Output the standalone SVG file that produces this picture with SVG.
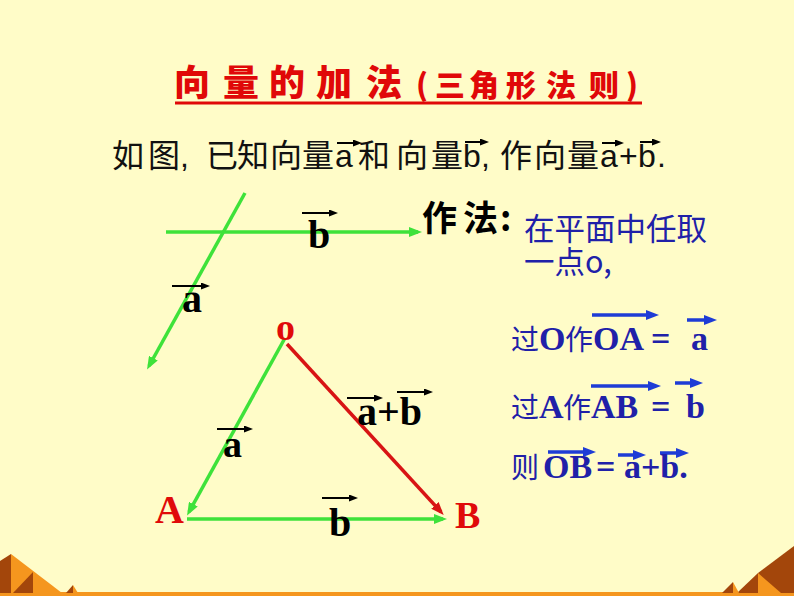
<svg xmlns="http://www.w3.org/2000/svg" width="794" height="596" viewBox="0 0 794 596">
<defs>
<style>
.bg{fill:#FFFCC8}
.dk{fill:#A3460B}
.or{fill:#F5961E}
.title{font-family:"Noto Sans CJK SC","Noto Sans CJK JP",sans-serif;font-weight:900;fill:#E00808}
.intro{font-family:"Liberation Sans","Noto Sans CJK SC",sans-serif;font-size:32px;fill:#111}
.lbl{font-family:"Liberation Serif",serif;font-weight:bold;fill:#000}
.pt{font-family:"Liberation Serif",serif;font-weight:bold;fill:#E00A0A}
.zuo{font-family:"Noto Sans CJK SC",sans-serif;font-weight:bold;font-size:35px;fill:#000}
.blue{font-family:"Noto Sans CJK SC",sans-serif;font-size:30.5px;fill:#2020A8}
.bb{font-family:"Liberation Serif",serif;font-weight:bold;font-size:34px;fill:#2020A8}
.bc{font-family:"Noto Sans CJK SC",sans-serif;font-weight:normal;font-size:28px;fill:#2020A8}
.green{stroke:#3EE23A;stroke-width:3.5;fill:none}
.red{stroke:#D81414;stroke-width:3.5;fill:none}
.blk{stroke:#000;stroke-width:2;fill:none}
.bl{stroke:#1E3CD6;stroke-width:3.5;fill:none}
</style>
<marker id="mg" markerUnits="userSpaceOnUse" markerWidth="14" markerHeight="10" refX="9" refY="5" orient="auto"><path d="M0,0 L13,5 L0,10 z" fill="#3EE23A"/></marker>
<marker id="mr" markerUnits="userSpaceOnUse" markerWidth="14" markerHeight="10" refX="9" refY="5" orient="auto"><path d="M0,0 L13,5 L0,10 z" fill="#D81414"/></marker>
<marker id="mk" markerUnits="userSpaceOnUse" markerWidth="9" markerHeight="7" refX="5" refY="3.5" orient="auto"><path d="M0,0 L9,3.5 L0,7 z" fill="#000"/></marker>
<marker id="mb" markerUnits="userSpaceOnUse" markerWidth="14" markerHeight="10" refX="8" refY="5" orient="auto"><path d="M0,0 L13,5 L0,10 z" fill="#1E3CD6"/></marker>
</defs>
<rect class="bg" x="0" y="0" width="794" height="596"/>
<g id="decor">
<rect class="or" x="0" y="592" width="794" height="4"/>
<polygon class="dk" points="0,561 11,554 11,593 0,593"/>
<polygon class="or" points="11,554 62,593 11,593"/>
<polygon class="dk" points="33,572 13,593 33,593"/>
<polygon class="dk" points="73,585 66,593 73,593"/>
<polygon class="or" points="73,585 78,593 73,593"/>
<polygon class="dk" points="737,593 758,573 794,546 794,593"/>
<polygon class="or" points="758,573 781,593 758,593"/>
<polygon class="dk" points="733,582 722,593 733,593"/>
<polygon class="or" points="733,582 739,593 733,593"/>
</g>
<g id="title">
<text class="title" y="96"><tspan font-size="36" x="174 223 269 316 366">向量的加法</tspan><tspan font-size="30" x="416 435 469 506 546 589 626">(三角形法则)</tspan></text>
<line x1="175" y1="103" x2="642" y2="103" stroke="#E00808" stroke-width="3"/>
</g>
<g id="intro">
<text class="intro" y="167" x="112 148 180 206 237 270 302 335 358 396 431 463 481 500 534 567 600 619 638 657">如图,已知向量a和向量b,作向量a+b.</text>
</g>
<g id="connectors">
<line class="green" x1="166" y1="232" x2="418" y2="232" marker-end="url(#mg)"/>
<line class="green" x1="245" y1="193" x2="149" y2="366" marker-end="url(#mg)"/>
<line class="green" x1="285" y1="338" x2="189" y2="512" marker-end="url(#mg)"/>
<line class="red" x1="287" y1="344" x2="441" y2="512" marker-end="url(#mr)"/>
<line class="green" x1="187" y1="519" x2="443" y2="519" marker-end="url(#mg)"/>
<g id="label-arrows">
<line class="blk" x1="337" y1="143" x2="358" y2="143" marker-end="url(#mk)"/>
<line class="blk" x1="465" y1="142" x2="485" y2="142" marker-end="url(#mk)"/>
<line class="blk" x1="602" y1="143" x2="620" y2="143" marker-end="url(#mk)"/>
<line class="blk" x1="640" y1="142" x2="657" y2="142" marker-end="url(#mk)"/>
<line class="blk" x1="302" y1="213" x2="334" y2="213" marker-end="url(#mk)"/>
<line class="blk" x1="172" y1="286" x2="206" y2="286" marker-end="url(#mk)"/>
<line class="blk" x1="217" y1="429" x2="249" y2="429" marker-end="url(#mk)"/>
<line class="blk" x1="347" y1="398" x2="379" y2="398" marker-end="url(#mk)"/>
<line class="blk" x1="397" y1="392" x2="429" y2="392" marker-end="url(#mk)"/>
<line class="blk" x1="322" y1="498" x2="354" y2="498" marker-end="url(#mk)"/>
<line class="bl" x1="592" y1="315" x2="654" y2="315" marker-end="url(#mb)"/>
<line class="bl" x1="687" y1="320" x2="712" y2="320" marker-end="url(#mb)"/>
<line class="bl" x1="591" y1="386" x2="656" y2="386" marker-end="url(#mb)"/>
<line class="bl" x1="675" y1="383" x2="698" y2="383" marker-end="url(#mb)"/>
<line class="bl" x1="548" y1="452" x2="591" y2="452" marker-end="url(#mb)"/>
<line class="bl" x1="618" y1="455" x2="641" y2="455" marker-end="url(#mb)"/>
<line class="bl" x1="660" y1="453" x2="684" y2="453" marker-end="url(#mb)"/>
</g>
</g>
<g id="fig1-labels">
<text class="lbl" font-size="40" x="308" y="248">b</text>
<text class="lbl" font-size="40" x="182" y="312">a</text>
</g>
<g id="node-O"><text class="pt" font-size="38" x="276" y="340">o</text></g>
<g id="node-A"><text class="pt" font-size="40" x="155" y="523">A</text></g>
<g id="node-B"><text class="pt" font-size="38" x="455" y="528">B</text></g>
<g id="tri-labels">
<text class="lbl" font-size="38" x="223" y="457">a</text>
<text class="lbl" font-size="40" x="357" y="425">a+b</text>
<text class="lbl" font-size="40" x="329" y="536">b</text>
</g>
<g id="method">
<text class="zuo" x="422" y="231">作<tspan x="463">法</tspan><tspan x="500">:</tspan></text>
<text class="blue" x="524" y="240">在平面中任取</text>
<text class="blue" x="524" y="273">一点o,</text>
</g>
<g id="steps">
<text class="bb" y="350"><tspan class="bc" x="511">过</tspan><tspan x="539">O</tspan><tspan class="bc" x="565">作</tspan><tspan x="593">OA</tspan><tspan x="651">=</tspan><tspan x="691">a</tspan></text>
<text class="bb" y="418"><tspan class="bc" x="511">过</tspan><tspan x="539">A</tspan><tspan class="bc" x="563">作</tspan><tspan x="591">AB</tspan><tspan x="651">=</tspan><tspan x="686">b</tspan></text>
<text class="bb" y="478"><tspan class="bc" x="511">则</tspan><tspan x="543">OB</tspan><tspan x="596">=</tspan><tspan x="624">a+b.</tspan></text>
</g>
</svg>
